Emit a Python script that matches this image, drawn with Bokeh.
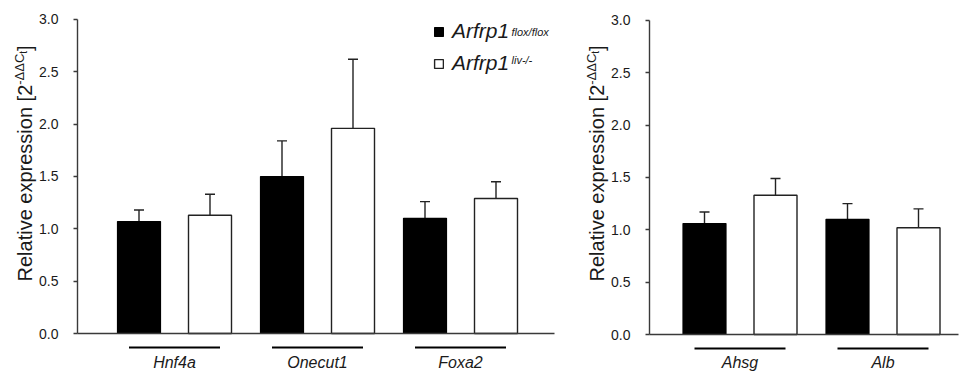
import numpy as np
from bokeh.plotting import figure
from bokeh.models import (Range1d, FixedTicker, Whisker, TeeHead, ColumnDataSource,
                          Label, Legend, LegendItem)
from bokeh.layouts import row
from bokeh.embed import file_html
from bokeh.resources import INLINE
from bokeh.core.properties import value

# ---------------- data ----------------
genes_a = ["Hnf4a", "Onecut1", "Foxa2"]
flox_a = [1.07, 1.50, 1.10]
flox_a_err = [0.11, 0.34, 0.16]
liv_a = [1.13, 1.96, 1.29]
liv_a_err = [0.20, 0.66, 0.16]

genes_b = ["Ahsg", "Alb"]
flox_b = [1.06, 1.10]
flox_b_err = [0.11, 0.15]
liv_b = [1.33, 1.02]
liv_b_err = [0.16, 0.18]

y_ticks = [0.0, 0.5, 1.0, 1.5, 2.0, 2.5, 3.0]
y_tick_labels = ["0.0", "0.5", "1.0", "1.5", "2.0", "2.5", "3.0"]

legend_main = "Arfrp1"
legend_sups = ["flox/flox", "liv-/-"]

# ---------------- layout (pixel geometry) ----------------
FONT_NAME = "Liberation Sans"
FONT = value(FONT_NAME)
H = 371
PX_X = 143.0      # px per gene group
PX_Y = 104.67     # px per unit of expression
AX = "#3a3a3a"
TXT = "#1a1a1a"


def panel(genes, flox, flox_err, liv, liv_err, fig_left, width, g0, zero, ax_left,
          ax_right, legend=False):
    # helpers: absolute picture pixels -> data coords
    def xd(px):
        return (px - g0) / PX_X

    def yd(py):
        return (zero - py) / PX_Y

    xr = Range1d(xd(fig_left), xd(fig_left + width))
    yr = Range1d(yd(H), yd(0))
    p = figure(width=width, height=H, x_range=xr, y_range=yr,
               output_backend="svg", toolbar_location=None,
               min_border_left=0, min_border_right=0,
               min_border_top=0, min_border_bottom=0)
    p.grid.visible = False
    p.outline_line_color = None

    # y axis
    ya = p.yaxis[0]
    ya.fixed_location = xd(ax_left)
    ya.ticker = FixedTicker(ticks=y_ticks)
    ya.major_label_overrides = {t: l for t, l in zip(y_ticks, y_tick_labels)}
    ya.bounds = (0, 3)
    ya.axis_line_color = AX
    ya.axis_line_width = 1.4
    ya.major_tick_line_color = AX
    ya.major_tick_line_width = 1.4
    ya.major_tick_out = 4
    ya.major_tick_in = 0
    ya.minor_tick_line_color = None
    ya.major_label_standoff = 15
    ya.major_label_text_font = FONT_NAME
    ya.major_label_text_font_size = "14px"
    ya.major_label_text_color = TXT

    # x axis (baseline at 0)
    xa = p.xaxis[0]
    xa.fixed_location = 0
    xa.bounds = (xd(ax_left), xd(ax_right))
    xa.ticker = FixedTicker(ticks=[])
    xa.major_label_text_font_size = "0px"
    xa.major_tick_line_color = None
    xa.minor_tick_line_color = None
    xa.axis_line_color = AX
    xa.axis_line_width = 1.4

    idx = np.arange(len(genes), dtype=float)
    off = 35.5 / PX_X
    bw = 43.0 / PX_X
    s_f = ColumnDataSource(dict(x=idx - off, top=flox, up=np.add(flox, flox_err)))
    s_l = ColumnDataSource(dict(x=idx + off, top=liv, up=np.add(liv, liv_err)))

    for s in (s_f, s_l):
        p.add_layout(Whisker(source=s, base="x", lower="top", upper="up",
                             dimension="height", line_color="#222222", line_width=1.4,
                             upper_head=TeeHead(size=10, line_color="#222222", line_width=1.4),
                             lower_head=None, level="underlay"))

    r_f = p.vbar(x="x", top="top", width=bw, source=s_f, fill_color="black",
                 line_color="black", line_width=1.2)
    r_l = p.vbar(x="x", top="top", width=bw, source=s_l, fill_color="white",
                 line_color="#222222", line_width=1.4)

    # group underlines and gene labels
    gl = 45.5 / PX_X
    p.segment(x0=idx - gl, x1=idx + gl, y0=yd(zero + 14), y1=yd(zero + 14),
              line_color="black", line_width=1.8)
    p.text(x=idx, y=yd(362), text=genes, text_align="center",
           text_baseline="middle", text_font=FONT, text_font_style="italic",
           text_font_size="16px", text_color=TXT)

    # rotated y-axis label with superscript / subscript (anchors at em-middle)
    start = 281.0
    pieces = [
        ("Relative expression [2", "20px", 24.0, 0.0),
        ("-ΔΔC", "13px", 18.5, 196.7),
        ("t", "10px", 22.5, 227.8),
        ("]", "20px", 24.0, 230.6),
    ]
    for txt, fs, cx, along in pieces:
        p.add_layout(Label(x=xd(ax_left - 77.0 + cx), y=yd(start - along), text=txt,
                           angle=np.pi / 2, text_font=FONT_NAME, text_font_size=fs,
                           text_align="left", text_baseline="middle",
                           text_color=TXT))

    if legend:
        lg = Legend(items=[LegendItem(label=legend_main, renderers=[r_f]),
                           LegendItem(label=legend_main, renderers=[r_l])],
                    location=(433 - fig_left, H - 75), orientation="vertical",
                    glyph_width=11, glyph_height=11, label_height=20,
                    label_standoff=8, spacing=8, padding=0, margin=0,
                    border_line_color=None, background_fill_alpha=0,
                    label_text_font=FONT_NAME, label_text_font_style="italic",
                    label_text_font_size="21px", label_text_color=TXT)
        p.add_layout(lg)
        for i, sup in enumerate(legend_sups):
            p.add_layout(Label(x=xd(511), y=yd(31 + 28 * i), text=sup,
                               text_font=FONT_NAME, text_font_style="italic",
                               text_font_size="11px", text_align="left",
                               text_baseline="middle", text_color=TXT))
    return p


p1 = panel(genes_a, flox_a, flox_a_err, liv_a, liv_a_err,
           fig_left=0, width=580, g0=174.0, zero=333.0, ax_left=77.0, ax_right=554.0,
           legend=True)
p2 = panel(genes_b, flox_b, flox_b_err, liv_b, liv_b_err,
           fig_left=580, width=379, g0=739.5, zero=334.0, ax_left=649.0, ax_right=958.0)

layout = row(p1, p2)
open("out.html", "w").write(file_html(layout, INLINE))
